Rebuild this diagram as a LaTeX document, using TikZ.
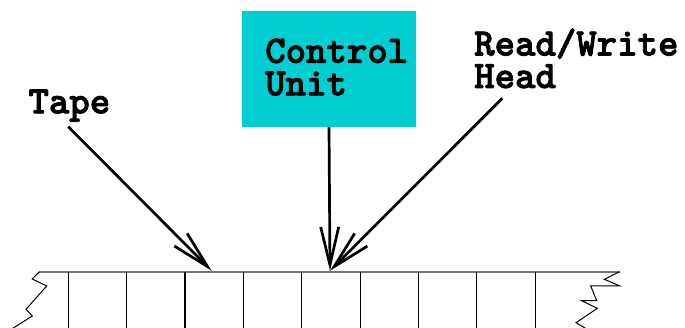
\documentclass[tikz,border=0pt]{standalone}
\usepackage{fontspec}
\newfontface\lblfont{lmmonolt10-bold.otf}[RawFeature={embolden=2.2}]
\usetikzlibrary{arrows.meta}
\definecolor{unitcyan}{HTML}{00CED1}
\begin{document}
\begin{tikzpicture}[x=1pt,y=-1pt,
  lbl/.style={font=\lblfont\fontsize{38.9}{32.5}\selectfont, inner sep=0pt, align=left, anchor=base west},
  unitbox/.style={fill=unitcyan, draw=none, minimum width=173.4pt, minimum height=115.7pt, inner sep=0pt},
  pointer/.style={line width=2.7pt, -{Straight Barb[length=38pt, width=18pt, line width=2.7pt]}},
  tapeedge/.style={draw=black!55, line width=2pt},
  cellwall/.style={draw=black, line width=1.1pt},
  tornedge/.style={draw=black, line width=1pt, line join=miter}]
\useasboundingbox (0,0) rectangle (685,328);
\clip (0,0) rectangle (685,328);

% control unit box and its caption (base anchor sits on the last line)
\node[unitbox] (cu) at (329,68.85) {};
\node[lbl] (cutext) at (265,95.3) {Control\\Unit};

% labels
\node[lbl] (tapelbl) at (28.3,113.3) {Tape};
\node[lbl] (rwlbl) at (474,88) {Read/Write\\Head};

% tape: top edge, cell walls, torn ends
\draw[tapeedge] (39.3,271.7) -- (619.5,271.7);
\foreach \k in {0,...,8}
  \draw[cellwall] ({68.3+58.35*\k},271.7) -- ({68.3+58.35*\k},330);
\draw[tornedge] (39.3,271.7) -- (32.3,279) -- (46.7,286) -- (26,309.3) -- (32.3,316) -- (13.3,328) -- (10,331);
\draw[tornedge] (619.5,271.7) -- (604.3,279.3) -- (620,286) -- (590.7,286) -- (596.7,300.7)
  -- (581.7,300.7) -- (597.3,308.3) -- (576,322.7) -- (585,328) -- (590,331);

% arrow end points
\coordinate (tapeFrom) at (68.3,126.7);
\coordinate (rwFrom) at (502.3,98.3);
\coordinate (cellA) at (211.7,270.8);
\coordinate (cellB) at (330,270.8);

\draw[pointer] (tapeFrom) -- (cellA);
\draw[pointer] (cu.south) -- (cellB);
\draw[pointer] (rwFrom) -- (cellB);
\end{tikzpicture}
\end{document}
